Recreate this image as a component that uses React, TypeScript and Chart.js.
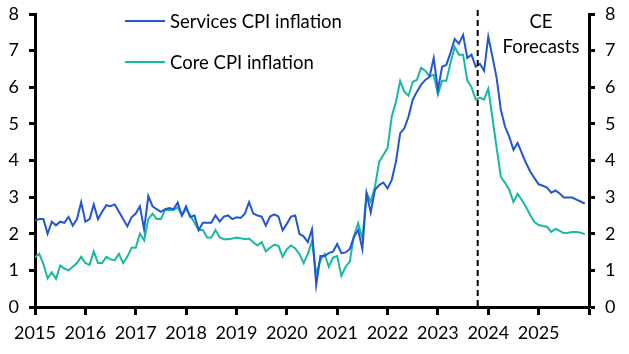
import React, { useEffect, useRef } from 'react';
import { Chart, registerables } from 'chart.js';

Chart.register(...registerables);

const START_YEAR = 2015;
const YEAR_TICKS = [2015, 2016, 2017, 2018, 2019, 2020, 2021, 2022, 2023, 2024, 2025, 2026];
const Y_TICKS = [0, 1, 2, 3, 4, 5, 6, 7, 8];
const FORECAST_START = 2023.79;

const SERVICES_LABEL = 'Services CPI inflation';
const CORE_LABEL = 'Core CPI inflation';
const FORECAST_TEXT = ['CE', 'Forecasts'];

// Monthly values, Jan 2015 - Dec 2025
const SERVICES = [
  2.35, 2.4, 2.4, 2.0, 2.33, 2.23, 2.33, 2.3, 2.46, 2.22, 2.4, 2.86,
  2.33, 2.4, 2.8, 2.4, 2.6, 2.78, 2.75, 2.8, 2.6, 2.4, 2.2, 2.45,
  2.55, 2.75, 2.12, 3.03, 2.75, 2.67, 2.6, 2.67, 2.7, 2.67, 2.85, 2.5,
  2.75, 2.45, 2.5, 2.1, 2.3, 2.3, 2.3, 2.5, 2.33, 2.47, 2.5, 2.4,
  2.45, 2.43, 2.55, 2.86, 2.55, 2.5, 2.47, 2.22, 2.47, 2.53, 2.47, 2.09,
  2.27, 2.47, 2.5, 2.0, 1.93, 1.77, 2.12, 0.6, 1.39, 1.39, 1.47, 1.51,
  1.72, 1.47, 1.49, 1.58, 1.92, 2.1, 1.58, 3.1, 2.58, 3.2, 3.33, 3.4,
  3.24, 3.47, 3.97, 4.74, 4.88, 5.2, 5.66, 5.88, 6.07, 6.2, 6.28, 6.8,
  5.93, 6.56, 6.61, 6.94, 7.32, 7.19, 7.43, 6.8, 6.89, 6.56, 6.64, 6.45,
  7.38, 6.83, 6.25, 5.38, 4.92, 4.65, 4.29, 4.48, 4.2, 3.93, 3.7, 3.52,
  3.35, 3.31, 3.26, 3.12, 3.18, 3.1, 2.99, 2.99, 2.99, 2.93, 2.88, 2.82,
];

const CORE = [
  1.36, 1.45, 1.18, 0.78, 0.95, 0.77, 1.13, 1.05, 1.0, 1.1, 1.2, 1.37,
  1.2, 1.15, 1.52, 1.2, 1.2, 1.37, 1.3, 1.28, 1.45, 1.2, 1.37, 1.62,
  1.62, 2.0, 1.82, 2.4, 2.55, 2.4, 2.4, 2.65, 2.65, 2.65, 2.72, 2.5,
  2.68, 2.5, 2.3, 2.1, 2.1, 1.9, 1.9, 2.1, 1.9, 1.85, 1.85, 1.87,
  1.9, 1.88, 1.85, 1.87, 1.77, 1.68, 1.77, 1.52, 1.62, 1.7, 1.67, 1.37,
  1.58, 1.68, 1.6, 1.45, 1.2, 1.45, 1.8, 0.9, 1.28, 1.45, 1.1, 1.35,
  1.39, 0.85, 1.1, 1.24, 1.94, 2.29, 1.87, 3.12, 2.87, 3.28, 3.96, 4.15,
  4.34, 5.2, 5.6, 6.17, 5.88, 5.77, 6.15, 6.2, 6.53, 6.45, 6.3, 6.34,
  5.8, 6.18, 6.18, 6.66, 7.1, 6.89, 6.89, 6.18, 6.0, 5.67, 5.72, 5.66,
  5.96, 5.16, 4.34, 3.55, 3.39, 3.2, 2.87, 3.09, 2.92, 2.73, 2.51, 2.32,
  2.24, 2.21, 2.19, 2.05, 2.13, 2.08, 2.02, 2.03, 2.05, 2.05, 2.03, 1.99,
];

const SERVICES_COLOR = '#2356d0';
const CORE_COLOR = '#17b9a0';
const FONT = 'Lato';

const toPoints = (vals: number[]) => vals.map((v, i) => ({ x: START_YEAR + i / 12, y: v }));

const overlayPlugin = {
  id: 'overlay',
  afterDatasetsDraw(chart: any) {
    const { ctx, chartArea, scales } = chart;
    ctx.save();
    // forecast dashed line
    const fx = scales.x.getPixelForValue(FORECAST_START);
    ctx.strokeStyle = '#000';
    ctx.lineWidth = 2;
    ctx.setLineDash([6, 4]);
    ctx.beginPath();
    ctx.moveTo(fx, chartArea.top - 4);
    ctx.lineTo(fx, chartArea.bottom);
    ctx.stroke();
    ctx.setLineDash([]);

    // legend
    ctx.font = `18.5px ${FONT}`;
    ctx.textBaseline = 'middle';
    ctx.textAlign = 'left';
    const items = [
      { label: SERVICES_LABEL, color: SERVICES_COLOR, y: chartArea.top + 7 },
      { label: CORE_LABEL, color: CORE_COLOR, y: chartArea.top + 48 },
    ];
    const lx = chartArea.left + 90;
    items.forEach((it) => {
      ctx.strokeStyle = it.color;
      ctx.lineWidth = 2;
      ctx.beginPath();
      ctx.moveTo(lx, it.y);
      ctx.lineTo(lx + 40, it.y);
      ctx.stroke();
      ctx.fillStyle = '#000';
      ctx.fillText(it.label, lx + 45, it.y + 1);
    });

    // forecast text
    ctx.textAlign = 'center';
    const cx = chartArea.right - 48;
    ctx.fillText(FORECAST_TEXT[0], cx, chartArea.top + 8);
    ctx.fillText(FORECAST_TEXT[1], cx, chartArea.top + 33);
    ctx.restore();
  },
};

const axisCommon = {
  min: 0,
  max: 8,
  border: { display: true, color: '#000', width: 3 },
  grid: { drawOnChartArea: false, drawTicks: true, tickLength: 6, tickWidth: 3, tickColor: '#000' },
};

const fitVertical = (width: number) => (s: any) => {
  s.width = width;
  s.paddingTop = 0;
  s.paddingBottom = 0;
};

export default function App() {
  const canvasRef = useRef<HTMLCanvasElement | null>(null);

  useEffect(() => {
    let chart: Chart | null = null;
    let cancelled = false;
    const build = () => {
      if (cancelled || !canvasRef.current) return;
      chart = new Chart(canvasRef.current, {
        type: 'line',
        data: {
          datasets: [
            {
              label: SERVICES_LABEL,
              data: toPoints(SERVICES),
              borderColor: SERVICES_COLOR,
              borderWidth: 2,
              pointRadius: 0,
              tension: 0,
              yAxisID: 'y',
            },
            {
              label: CORE_LABEL,
              data: toPoints(CORE),
              borderColor: CORE_COLOR,
              borderWidth: 2,
              pointRadius: 0,
              tension: 0,
              yAxisID: 'y',
            },
          ],
        },
        options: {
          responsive: false,
          animation: false,
          devicePixelRatio: 1,
          layout: { padding: { top: 14, left: 0, right: 0, bottom: 0 } },
          font: { family: FONT },
          plugins: { legend: { display: false }, tooltip: { enabled: false } },
          scales: {
            x: {
              type: 'linear',
              min: YEAR_TICKS[0],
              max: YEAR_TICKS[YEAR_TICKS.length - 1],
              afterFit: (s: any) => { s.height = 47; s.paddingLeft = 0; s.paddingRight = 0; },
              afterBuildTicks: (s: any) => { s.ticks = YEAR_TICKS.map((v) => ({ value: v })); },
              ticks: {
                autoSkip: false,
                maxRotation: 0,
                padding: 7,
                color: '#000',
                font: { family: FONT, size: 18 },
                callback: (v: any) => (v < YEAR_TICKS[YEAR_TICKS.length - 1] ? String(v) : ''),
              },
              border: { display: true, color: '#000', width: 3 },
              grid: { drawOnChartArea: false, drawTicks: true, tickLength: 8, tickWidth: 3, tickColor: '#000' },
            },
            y: {
              ...axisCommon,
              position: 'left',
              afterFit: fitVertical(35),
              afterBuildTicks: (s: any) => { s.ticks = Y_TICKS.map((v) => ({ value: v })); },
              ticks: { padding: 10, color: '#000', font: { family: FONT, size: 18 } },
            },
            y2: {
              ...axisCommon,
              position: 'right',
              afterFit: fitVertical(40),
              afterBuildTicks: (s: any) => { s.ticks = Y_TICKS.map((v) => ({ value: v })); },
              ticks: { padding: 10, color: '#000', font: { family: FONT, size: 18 } },
            },
          },
        } as any,
        plugins: [overlayPlugin],
      });
    };
    const fontsApi = (document as any).fonts;
    if (fontsApi && fontsApi.load) {
      fontsApi.load(`18px ${FONT}`).then(build, build);
    } else {
      build();
    }
    return () => {
      cancelled = true;
      if (chart) chart.destroy();
    };
  }, []);

  return (
    <div style={{ position: 'fixed', left: 0, top: 0, width: 629, height: 354, background: '#fff' }}>
      <canvas ref={canvasRef} width={629} height={354} style={{ display: 'block', width: 629, height: 354 }} />
    </div>
  );
}
